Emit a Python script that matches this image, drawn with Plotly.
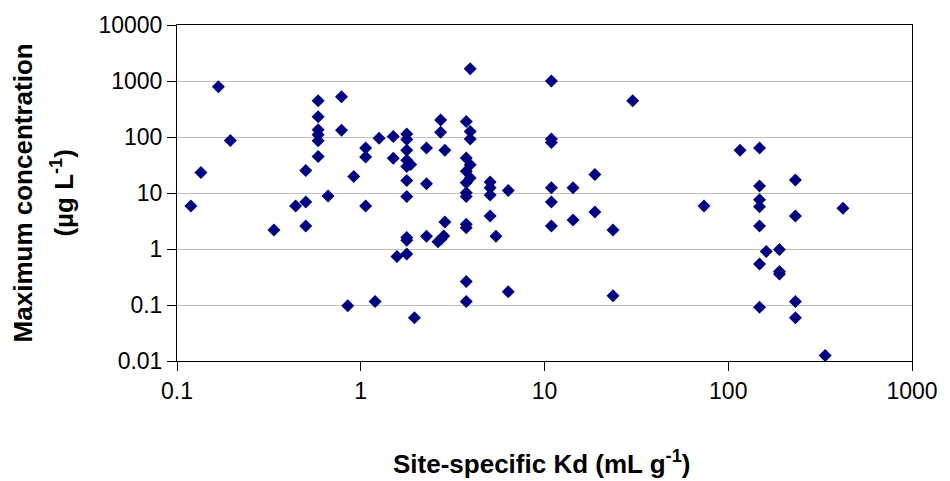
import plotly.graph_objects as go

# Site-specific Kd (mL g-1)
kd = [0.119, 0.135, 0.168, 0.195, 0.337, 0.442, 0.502, 0.502, 0.502,
      0.586, 0.586, 0.586, 0.586, 0.586, 0.586, 0.664, 0.786, 0.786,
      0.85, 0.916, 1.063, 1.063, 1.063, 1.197, 1.258, 1.503, 1.503, 1.574,
      1.78, 1.78, 1.78, 1.78, 1.87, 1.78, 1.78, 1.78, 1.78, 1.78, 1.78, 1.96,
      2.28, 2.28, 2.28, 2.72, 2.72, 2.87, 2.87, 2.63, 2.73, 2.83,
      3.75, 3.94, 3.94, 3.94, 3.75, 3.94, 3.75, 3.94, 3.75, 3.75, 3.75,
      3.75, 3.75, 3.75, 3.75,
      5.06, 5.06, 5.06, 5.06, 5.44, 6.35, 6.35,
      10.9, 10.9, 10.9, 10.9, 10.9, 10.9, 14.3, 14.3, 18.8, 18.8, 23.6, 23.6,
      30.2, 73.8, 116, 148, 148, 148, 148, 148, 148, 148, 161, 190, 190, 190,
      232, 232, 232, 232, 337, 421]

# Maximum concentration (ug L-1)
conc = [5.85, 23.3, 789, 87, 2.19, 5.85, 6.9, 2.58, 25.2,
        444, 231, 135, 110, 86, 45, 8.8, 524, 132,
        0.097, 19.7, 63.7, 44, 5.85, 0.115, 95, 102, 41.8, 0.733,
        113, 90, 58, 38.5, 32.3, 29.7, 16.8, 8.7, 1.6, 1.44, 0.81, 0.059,
        63.7, 14.6, 1.69, 201, 121, 58, 3.03, 1.35, 1.5, 1.71,
        190, 126, 92, 1650, 42, 32, 24.5, 18.6, 15.2, 10.1, 8.7,
        2.76, 2.4, 0.263, 0.115,
        15.8, 12.4, 9.2, 3.88, 1.69, 11.1, 0.173,
        1000, 92, 80, 12.4, 6.9, 2.58, 12.4, 3.3, 21.4, 4.57, 2.19, 0.147,
        444, 5.85, 58, 63.7, 13.3, 7.6, 5.7, 2.58, 0.537, 0.091, 0.9, 0.975, 0.396, 0.356,
        17, 3.88, 0.115, 0.059, 0.0125, 5.32]

x_tickvals = [0.1, 1, 10, 100, 1000]
x_ticktext = ["0.1", "1", "10", "100", "1000"]
y_tickvals = [0.01, 0.1, 1, 10, 100, 1000, 10000]
y_ticktext = ["0.01", "0.1", "1", "10", "100", "1000", "10000"]

x_title = "Site-specific Kd (mL g<sup>-1</sup>)"
y_title_line1 = "Maximum concentration"
y_title_line2 = "(µg L<sup>-1</sup>)"

fig = go.Figure()
fig.add_trace(go.Scatter(
    x=kd, y=conc, mode="markers",
    marker=dict(symbol="diamond", size=10, color="#000080",
                line=dict(width=0)),
    showlegend=False,
))

font_tick = dict(family="Liberation Sans, Arial, sans-serif", size=23, color="black")

fig.update_xaxes(
    type="log", range=[-1, 3],
    tickvals=x_tickvals, ticktext=x_ticktext,
    ticks="outside", ticklen=9, tickcolor="black", tickwidth=1,
    showline=True, linecolor="black", linewidth=1, mirror=True,
    showgrid=False, zeroline=False, tickfont=font_tick,
)
fig.update_yaxes(
    type="log", range=[-2, 4],
    tickvals=y_tickvals, ticktext=y_ticktext,
    ticks="outside", ticklen=9, tickcolor="black", tickwidth=1,
    showline=True, linecolor="black", linewidth=1, mirror=True,
    showgrid=True, gridcolor="#c0c0c0", gridwidth=1,
    zeroline=False, tickfont=font_tick,
)

title_font = dict(family="Liberation Sans, Arial, sans-serif", size=26, color="black")

fig.add_annotation(
    text="<b>" + x_title + "</b>", xref="paper", yref="paper",
    x=0.496, y=-0.302, xanchor="center", yanchor="middle",
    showarrow=False, font=title_font,
)
fig.add_annotation(
    text="<b>" + y_title_line1 + "</b>", xref="paper", yref="paper",
    x=-0.209, y=0.5, xanchor="center", yanchor="middle",
    textangle=-90, showarrow=False, font=title_font,
)
fig.add_annotation(
    text="<b>" + y_title_line2 + "</b>", xref="paper", yref="paper",
    x=-0.157, y=0.5, xanchor="center", yanchor="middle",
    textangle=-90, showarrow=False, font=title_font,
)

fig.update_layout(
    width=950, height=481,
    margin=dict(l=177, r=31, t=23, b=120),
    paper_bgcolor="white", plot_bgcolor="white",
)

fig.write_html("out.html")
